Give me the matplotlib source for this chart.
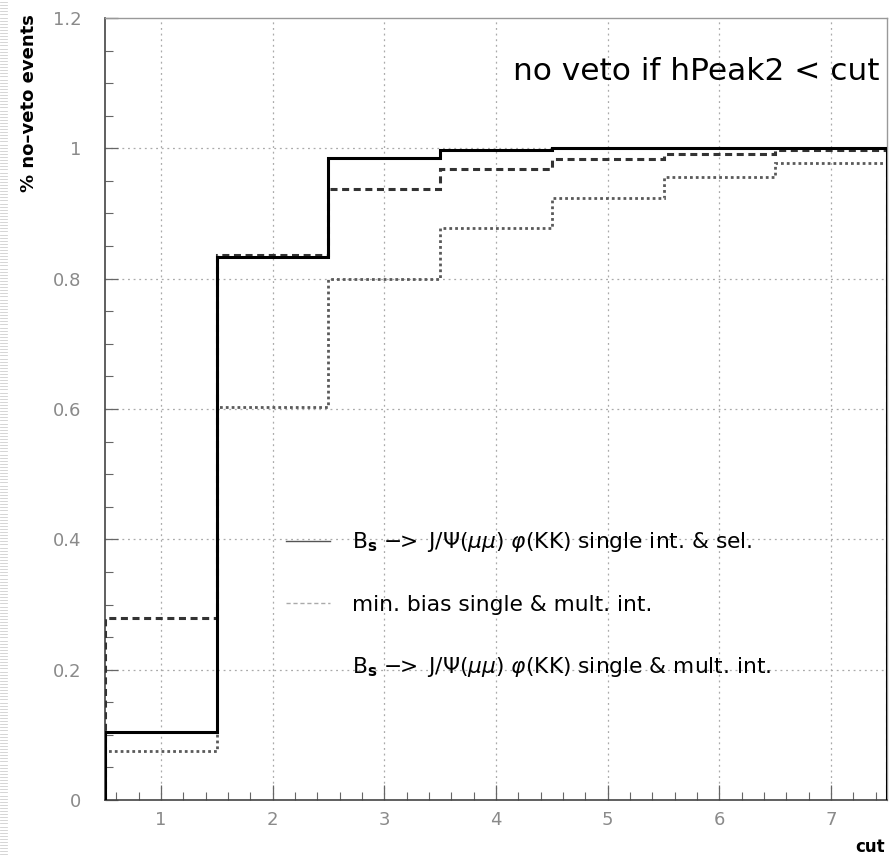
import numpy as np
import matplotlib
matplotlib.use("Agg")
import matplotlib.pyplot as plt
from matplotlib.lines import Line2D
from matplotlib.ticker import MultipleLocator

# ---- data ----
bin_edges = [0.5, 1.5, 2.5, 3.5, 4.5, 5.5, 6.5, 7.5]
bs_single_sel = [0.104, 0.834, 0.985, 0.997, 1.0, 1.0, 1.0]
bs_single_mult = [0.280, 0.836, 0.937, 0.968, 0.983, 0.991, 0.997]
minbias = [0.075, 0.603, 0.800, 0.877, 0.924, 0.956, 0.977]

legend_labels = [
    r"B$_{\mathbf{s}}$ $-\!\!>$ J/$\Psi$($\mu\mu$) $\varphi$(KK) single int. & sel.",
    "min. bias single & mult. int.",
    r"B$_{\mathbf{s}}$ $-\!\!>$ J/$\Psi$($\mu\mu$) $\varphi$(KK) single & mult. int.",
]
title_text = "no veto if hPeak2 < cut"
ylabel_text = "% no\u2013veto events"
xlabel_text = "cut"
xticks = [1, 2, 3, 4, 5, 6, 7]
yticks = [0, 0.2, 0.4, 0.6, 0.8, 1.0, 1.2]
ytick_labels = ["0", "0.2", "0.4", "0.6", "0.8", "1", "1.2"]

W, H = 896, 856
fig = plt.figure(figsize=(W / 100, H / 100), dpi=100)
fig.patch.set_facecolor("white")
ax = fig.add_axes([105 / W, 1 - 800 / H, (887 - 105) / W, (800 - 18) / H])

# grid
for xv in xticks:
    ax.axvline(xv, color="#aaaaaa", lw=0.9, ls=(0, (1.5, 3)), zorder=0)
for yv in yticks[1:-1]:
    ax.axhline(yv, color="#aaaaaa", lw=0.9, ls=(0, (1.5, 3)), zorder=0)

# histograms
ax.stairs(minbias, bin_edges, baseline=0, color="#5a5a5a", lw=2.0,
          ls=(0, (1, 1.1)), zorder=2)
ax.stairs(bs_single_mult, bin_edges, baseline=0, color="#333333", lw=2.2,
          ls=(0, (2.3, 1.5)), zorder=3)
ax.stairs(bs_single_sel, bin_edges, baseline=0, color="black", lw=2.2, zorder=4)

ax.set_xlim(0.5, 7.5)
ax.set_ylim(0, 1.2)
ax.set_xticks(xticks)
ax.set_yticks(yticks)
ax.set_yticklabels(ytick_labels)
ax.xaxis.set_minor_locator(MultipleLocator(0.2))
ax.yaxis.set_minor_locator(MultipleLocator(0.05))
ax.tick_params(which="both", direction="in", color="#666666", top=False, right=False)
ax.tick_params(which="major", length=11, width=0.9)
ax.tick_params(which="minor", length=5.5, width=0.8)
ax.tick_params(axis="y", which="major", length=9)
ax.tick_params(axis="x", labelsize=13, labelcolor="#8a8a8a", pad=8)
ax.tick_params(axis="y", labelsize=13, labelcolor="#8a8a8a", pad=17)
for s in ["left", "bottom"]:
    ax.spines[s].set_color("#444444")
    ax.spines[s].set_linewidth(1.2)
for s in ["top", "right"]:
    ax.spines[s].set_color("#999999")
    ax.spines[s].set_linewidth(1.0)

# title text
ax.text(0.99, 0.931, title_text, transform=ax.transAxes, ha="right", va="center",
        fontsize=22.5, color="black")

# legend
handles = [
    Line2D([], [], color="#555555", lw=1.0),
    Line2D([], [], color="#aaaaaa", lw=1.0, ls=(0, (3, 2))),
    Line2D([], [], color="none", lw=1.0),
]
leg = ax.legend(handles, legend_labels, loc="upper left",
                bbox_to_anchor=(0.207, 0.37), frameon=False, fontsize=15.7,
                handlelength=2.0, handletextpad=1.0, labelspacing=1.85)

fig.text(29 / W, 1 - 14 / H, ylabel_text, rotation=90, ha="center", va="top",
         fontsize=13, fontweight="bold")
fig.text(870 / W, 1 - 847 / H, xlabel_text, ha="center", va="center",
         fontsize=12, fontweight="bold")

# scan artefact strip at left edge
for yy in np.arange(2, H, 3.1):
    fig.add_artist(Line2D([0, 7 / W], [1 - yy / H, 1 - yy / H], color="#cfcfcf",
                          lw=0.6, transform=fig.transFigure))

fig.savefig("out.png", dpi=100)
